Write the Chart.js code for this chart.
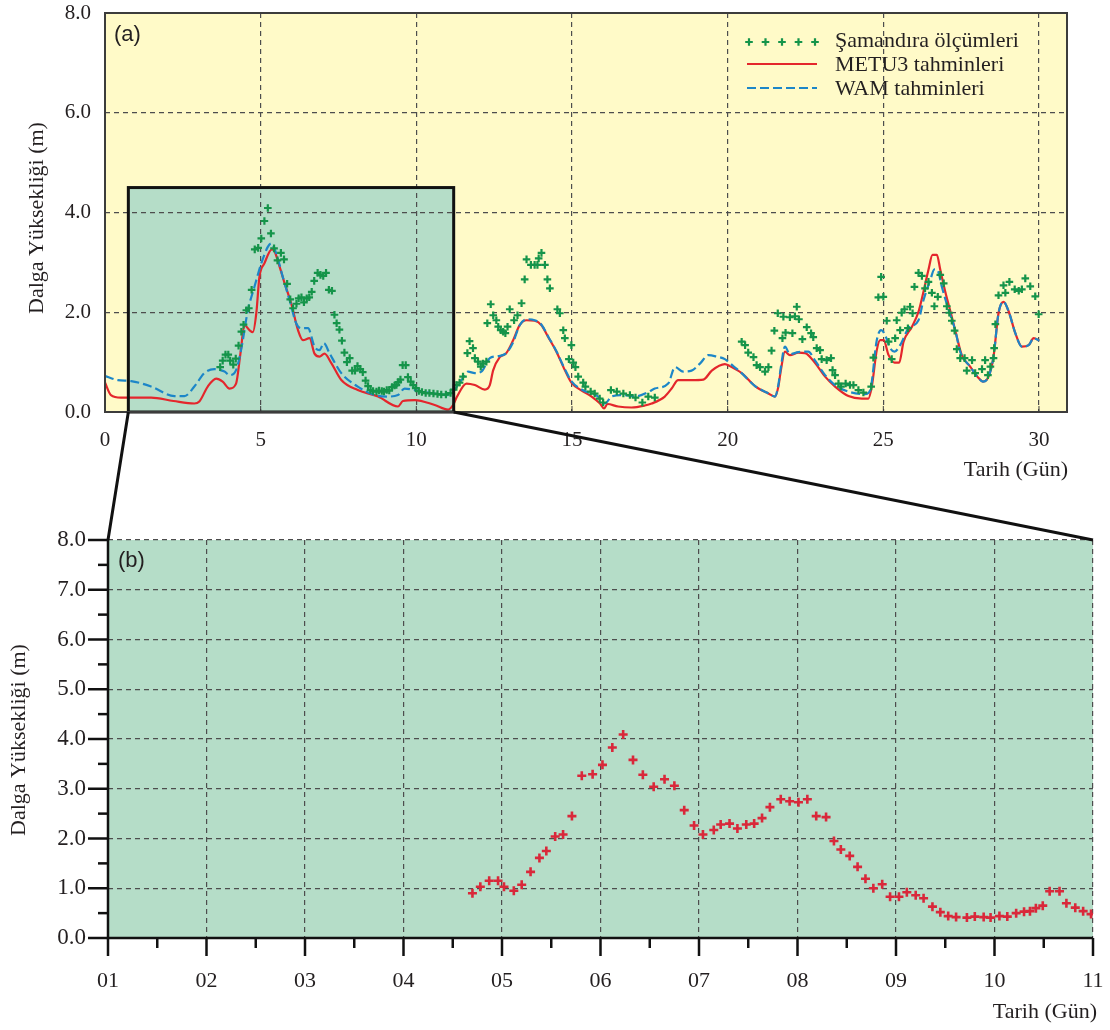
<!DOCTYPE html>
<html lang="tr">
<head>
<meta charset="utf-8">
<title>Dalga Yüksekliği</title>
<script src="https://cdn.jsdelivr.net/npm/chart.js@4/dist/chart.umd.min.js"></script>
<style>
  body { margin: 0; background: #fff; }
  #wrap { position: relative; width: 1110px; height: 1030px; }
  canvas { position: absolute; left: 0; }
  #chart-a { top: 0; }
  #chart-b { top: 500px; }
  #links { top: 0; pointer-events: none; }
</style>
</head>
<body>
<div id="wrap">
  <canvas id="chart-a" width="1110" height="500"></canvas>
  <canvas id="chart-b" width="1110" height="530"></canvas>
  <canvas id="links" width="1110" height="1030"></canvas>
</div>
<script>
// Buoy measurements (day of month, metres)
const buoyDays = [
  3.70, 3.78, 3.87, 3.96, 4.02, 4.12, 4.20, 4.29, 4.38, 4.45, 4.54, 4.62, 4.71, 4.81, 4.92,
  5.02, 5.12, 5.23, 5.33, 5.43, 5.54, 5.65, 5.75, 5.85, 5.95, 6.04, 6.15, 6.22, 6.31, 6.39,
  6.48, 6.56, 6.64, 6.72, 6.83, 6.92, 7.01, 7.10, 7.19, 7.29, 7.37, 7.44, 7.53, 7.61, 7.69,
  7.77, 7.86, 7.94, 8.03, 8.11, 8.20, 8.28, 8.37, 8.45, 8.53, 8.61, 8.72, 8.80, 8.89, 8.96,
  9.05, 9.13, 9.22, 9.30, 9.36, 9.42, 9.49, 9.56, 9.66, 9.73, 9.82, 9.90, 9.98,
  10.08, 10.18, 10.30, 10.42, 10.55, 10.68, 10.80, 10.95, 11.10, 11.20, 11.29, 11.39, 11.50,
  11.64, 11.71, 11.82, 11.88, 11.98, 12.07, 12.14, 12.25, 12.28, 12.39, 12.47, 12.57, 12.63,
  12.71, 12.79, 12.86, 12.93, 13.00, 13.14, 13.25, 13.38, 13.48, 13.54, 13.68, 13.80, 13.89,
  13.93, 14.02, 14.13, 14.21, 14.29, 14.53, 14.61, 14.72, 14.77, 14.90, 14.98, 15.04, 15.11,
  15.20, 15.36, 15.43, 15.60, 15.73, 15.89, 16.00, 16.25, 16.44, 16.65, 16.86, 17.04, 17.26,
  17.45, 17.66,
  20.45, 20.56, 20.66, 20.83, 20.93, 21.04, 21.20, 21.31, 21.41, 21.50, 21.61, 21.76, 21.79,
  21.86, 22.00, 22.08, 22.16, 22.22, 22.29, 22.40, 22.54, 22.68, 22.75, 22.86, 22.97, 23.02,
  23.18, 23.32, 23.37, 23.45, 23.56, 23.64, 23.79, 23.93, 24.04, 24.20, 24.36, 24.61, 24.68,
  24.84, 24.93, 25.00, 25.11, 25.17, 25.27, 25.38, 25.43, 25.54, 25.59, 25.68, 25.79, 25.86,
  25.94, 26.00, 26.13, 26.24, 26.34, 26.45, 26.56, 26.64, 26.75, 26.83, 26.94, 27.04, 27.12,
  27.20, 27.29, 27.36, 27.47, 27.61, 27.68, 27.85, 27.95, 28.17, 28.27, 28.36, 28.44, 28.54,
  28.56, 28.60, 28.70, 28.86, 28.92, 29.05, 29.22, 29.35, 29.45, 29.56, 29.72, 29.88, 29.99
];
const buoyHeights = [
  0.90, 1.03, 1.15, 1.15, 1.03, 0.95, 1.07, 1.33, 1.61, 1.75, 2.04, 2.08, 2.45, 3.26, 3.29,
  3.48, 3.83, 4.09, 3.58, 3.28, 3.04, 3.19, 3.06, 2.57, 2.26, 2.08, 2.17, 2.28, 2.30, 2.20,
  2.28, 2.30, 2.41, 2.63, 2.79, 2.75, 2.73, 2.79, 2.45, 2.43, 1.95, 1.78, 1.65, 1.43, 1.19,
  1.00, 1.08, 0.83, 0.83, 0.92, 0.86, 0.80, 0.63, 0.52, 0.44, 0.42, 0.41, 0.43, 0.42, 0.41,
  0.44, 0.43, 0.50, 0.53, 0.54, 0.60, 0.65, 0.94, 0.94, 0.70, 0.61, 0.54, 0.48,
  0.42, 0.40, 0.38, 0.38, 0.37, 0.36, 0.35, 0.35, 0.38, 0.45, 0.54, 0.59, 0.71,
  1.18, 1.42, 1.28, 1.08, 1.01, 0.91, 0.97, 1.01, 1.78, 2.16, 1.94, 1.84, 1.71,
  1.64, 1.61, 1.58, 1.71, 2.06, 1.84, 1.94, 2.18, 2.66, 3.06, 2.95, 2.95, 2.95,
  3.08, 3.19, 2.95, 2.66, 2.48, 2.06, 1.98, 1.64, 1.48, 1.06, 1.34, 0.99, 0.90,
  0.71, 0.59, 0.51, 0.41, 0.37, 0.27, 0.19, 0.44, 0.41, 0.37, 0.34, 0.29, 0.19,
  0.31, 0.29,
  1.41, 1.34, 1.19, 1.10, 0.94, 0.90, 0.81, 0.90, 1.23, 1.63, 1.98, 1.48, 1.91,
  1.59, 1.90, 1.58, 1.92, 2.11, 1.86, 1.46, 1.70, 1.58, 1.50, 1.28, 1.24, 1.06,
  1.04, 1.08, 0.84, 0.74, 0.57, 0.51, 0.57, 0.54, 0.54, 0.44, 0.39, 0.51, 1.09,
  2.30, 2.71, 2.31, 1.83, 1.41, 1.06, 1.48, 1.84, 1.64, 1.99, 2.06, 1.68, 2.11,
  1.98, 2.51, 2.79, 2.73, 2.48, 2.61, 2.39, 2.12, 2.31, 2.75, 2.58, 2.12, 1.99,
  1.83, 1.63, 1.26, 1.08, 1.08, 0.83, 1.04, 0.78, 0.86, 1.04, 0.74, 0.91, 1.08,
  1.28, 1.76, 2.34, 2.54, 2.39, 2.61, 2.46, 2.43, 2.46, 2.68, 2.52, 2.32, 1.96
];

// METU3 model forecast
const metuDays = [
  0.00, 0.19, 0.51, 1.48, 2.20, 2.87, 3.03, 3.30, 3.57, 3.78, 4.00, 4.21, 4.35, 4.48, 4.64,
  4.75, 4.86, 4.96, 5.12, 5.36, 5.44, 5.61, 5.77, 5.98, 6.20, 6.36, 6.57, 6.73, 6.89, 7.05,
  7.27, 7.59, 8.12, 8.77, 9.41, 9.57, 9.95, 10.59, 11.02, 11.18, 11.30, 11.61, 11.88, 12.20,
  12.36, 12.47, 12.68, 12.89, 13.11, 13.32, 13.54, 13.80, 14.02, 14.23, 14.50, 14.77, 14.98,
  15.31, 15.63, 15.90, 16.03, 16.14, 16.48, 16.91, 17.34, 17.56, 17.98, 18.20, 18.41, 18.84,
  19.22, 19.49, 19.91, 20.07, 20.45, 20.88, 21.31, 21.52, 21.63, 21.71, 21.84, 22.00, 22.27,
  22.49, 22.81, 23.13, 23.45, 23.88, 24.31, 24.52, 24.63, 24.79, 24.90, 25.01, 25.17, 25.36,
  25.51, 25.65, 25.92, 26.13, 26.29, 26.45, 26.58, 26.72, 26.83, 26.99, 27.20, 27.36, 27.52,
  27.79, 28.06, 28.20, 28.38, 28.54, 28.70, 28.86, 29.03, 29.24, 29.45, 29.67, 29.83, 30.01
];
const metuHeights = [
  0.59, 0.34, 0.29, 0.29, 0.22, 0.17, 0.21, 0.51, 0.67, 0.61, 0.47, 0.57, 1.17, 1.74, 1.64,
  1.60, 1.98, 2.71, 2.98, 3.26, 3.23, 2.91, 2.58, 2.18, 1.64, 1.44, 1.48, 1.17, 1.11, 1.17,
  0.98, 0.64, 0.44, 0.31, 0.11, 0.22, 0.24, 0.14, 0.05, 0.14, 0.30, 0.57, 0.54, 0.45,
  0.54, 0.84, 1.10, 1.18, 1.44, 1.74, 1.84, 1.83, 1.74, 1.51, 1.21, 0.84, 0.59,
  0.43, 0.31, 0.17, 0.07, 0.16, 0.11, 0.09, 0.13, 0.17, 0.31, 0.47, 0.64, 0.64,
  0.65, 0.83, 0.96, 0.92, 0.78, 0.52, 0.37, 0.31, 0.51, 0.84, 1.21, 1.14, 1.19,
  1.18, 0.98, 0.71, 0.51, 0.32, 0.27, 0.27, 0.51, 1.24, 1.44, 1.44, 1.14, 0.99,
  0.99, 1.41, 1.71, 2.01, 2.41, 2.85, 3.15, 3.15, 2.85, 2.41, 1.91, 1.51, 1.14,
  0.91, 0.68, 0.61, 0.71, 1.11, 1.98, 2.21, 2.01, 1.58, 1.31, 1.34, 1.48, 1.43
];

// WAM model forecast
const wamDays = [
  0.00, 0.41, 0.84, 1.48, 2.23, 2.55, 2.87, 3.19, 3.51, 3.84, 4.00, 4.21, 4.37, 4.59, 4.80,
  5.02, 5.23, 5.34, 5.50, 5.71, 5.93, 6.14, 6.30, 6.52, 6.73, 6.89, 7.03, 7.21, 7.59, 8.12,
  8.66, 9.09, 9.41, 9.62, 9.95, 10.59, 11.02, 11.13, 11.45, 11.66, 11.88, 12.09, 12.36, 12.63,
  12.89, 13.11, 13.32, 13.54, 13.80, 14.02, 14.23, 14.50, 14.77, 14.98, 15.31, 15.84, 16.06,
  16.27, 16.65, 17.02, 17.45, 17.66, 18.09, 18.31, 18.57, 18.84, 19.11, 19.38, 19.65, 19.91,
  20.18, 20.45, 20.88, 21.31, 21.52, 21.63, 21.71, 21.84, 22.00, 22.27, 22.59, 22.81, 23.13,
  23.45, 23.88, 24.42, 24.58, 24.79, 24.93, 25.06, 25.22, 25.36, 25.54, 25.81, 26.13, 26.29,
  26.51, 26.64, 26.75, 26.88, 27.10, 27.31, 27.47, 27.79, 28.06, 28.20, 28.38, 28.54, 28.70,
  28.86, 29.03, 29.24, 29.45, 29.67, 29.83, 30.01
];
const wamHeights = [
  0.72, 0.64, 0.62, 0.51, 0.32, 0.32, 0.51, 0.78, 0.86, 0.81, 0.74, 0.84, 1.24, 2.04, 2.51,
  2.98, 3.31, 3.38, 3.18, 2.71, 2.24, 1.78, 1.68, 1.68, 1.31, 1.24, 1.38, 1.18, 0.78, 0.51,
  0.34, 0.31, 0.34, 0.47, 0.44, 0.37, 0.34, 0.37, 0.64, 0.81, 0.78, 0.81, 1.08, 1.12,
  1.18, 1.40, 1.74, 1.86, 1.84, 1.75, 1.52, 1.22, 0.86, 0.62, 0.45, 0.31, 0.17,
  0.31, 0.34, 0.31, 0.40, 0.47, 0.57, 0.90, 0.81, 0.83, 0.97, 1.14, 1.11, 1.06,
  0.92, 0.78, 0.52, 0.37, 0.31, 0.55, 0.90, 1.31, 1.16, 1.20, 1.21, 1.03, 0.74,
  0.54, 0.41, 0.36, 0.44, 1.44, 1.64, 1.54, 1.28, 1.21, 1.34, 1.68, 1.84, 2.24,
  2.65, 2.86, 2.83, 2.51, 2.04, 1.64, 1.21, 0.91, 0.68, 0.61, 0.71, 1.11, 1.98,
  2.21, 2.01, 1.58, 1.31, 1.34, 1.48, 1.43
];

const seriesLabels = ["Şamandıra ölçümleri", "METU3 tahminleri", "WAM tahminleri"];

const monthTicks = [0, 5, 10, 15, 20, 25, 30];
const heightTicksA = [0, 2, 4, 6, 8];
const dayTicksB = [1, 2, 3, 4, 5, 6, 7, 8, 9, 10, 11];
const heightTicksB = [0, 1, 2, 3, 4, 5, 6, 7, 8];

// part of the month enlarged in panel (b); panel (b) numbers days from 01
const zoomDays = [0.75, 11.2];
const zoomHeight = 4.5;
const dayShiftB = 1;

const YELLOW = "#fffac8";
const TEAL = "#b5ddc8";
const GREEN = "#15944a";
const RED = "#e4262c";
const BLUE = "#1c86c8";
const MARK_RED = "#d9283a";
const GRID = "#4d4d4d";
const INK = "#231f20";
const SERIF = "'Liberation Serif', 'Times New Roman', serif";
const SANS = "'Liberation Sans', Arial, sans-serif";

function toPoints(days, heights, shift) {
  return days.map((d, i) => ({x: d + shift, y: heights[i]}));
}

function fixedTicks(values) {
  return function(scale) {
    scale.ticks = values.map((v) => ({value: v}));
  };
}

// fixed axis size, and no extra room for overhanging tick labels
function fixedSize(size) {
  return function(scale) {
    if (scale.isHorizontal()) {
      scale.height = size;
    } else {
      scale.width = size;
    }
    scale.paddingTop = 0;
    scale.paddingBottom = 0;
    scale.paddingLeft = 0;
    scale.paddingRight = 0;
  };
}

function yTitle(ctx, x, y, text) {
  ctx.save();
  ctx.translate(x, y);
  ctx.rotate(-Math.PI / 2);
  ctx.font = "22px " + SERIF;
  ctx.fillStyle = INK;
  ctx.textAlign = "center";
  ctx.textBaseline = "middle";
  ctx.fillText(text, 0, 0);
  ctx.restore();
}

function plainText(ctx, text, x, y, font, align) {
  ctx.save();
  ctx.font = font;
  ctx.fillStyle = INK;
  ctx.textAlign = align;
  ctx.textBaseline = "middle";
  ctx.fillText(text, x, y);
  ctx.restore();
}

function drawCross(ctx, x, y, r) {
  ctx.beginPath();
  ctx.moveTo(x - r, y);
  ctx.lineTo(x + r, y);
  ctx.moveTo(x, y - r);
  ctx.lineTo(x, y + r);
  ctx.stroke();
}

const panelA = {
  id: "panelA",
  beforeDraw(chart) {
    const {ctx, chartArea: a, scales: {x, y}} = chart;
    ctx.save();
    ctx.fillStyle = YELLOW;
    ctx.fillRect(a.left, a.top, a.width, a.height);
    const x0 = x.getPixelForValue(zoomDays[0]);
    const x1 = x.getPixelForValue(zoomDays[1]);
    const yt = y.getPixelForValue(zoomHeight);
    const yb = y.getPixelForValue(0);
    ctx.fillStyle = TEAL;
    ctx.fillRect(x0, yt, x1 - x0, yb - yt);
    ctx.restore();
  },
  afterDraw(chart) {
    const {ctx, chartArea: a, scales: {x, y}} = chart;
    ctx.save();

    // enlarged window outline
    const x0 = x.getPixelForValue(zoomDays[0]);
    const x1 = x.getPixelForValue(zoomDays[1]);
    const yt = y.getPixelForValue(zoomHeight);
    const yb = y.getPixelForValue(0);
    ctx.strokeStyle = "#111";
    ctx.lineWidth = 3;
    ctx.strokeRect(x0, yt, x1 - x0, yb - yt);

    // frame and short inner ticks
    ctx.strokeStyle = "#3c3c3c";
    ctx.lineWidth = 2;
    ctx.strokeRect(a.left, a.top, a.width, a.height);
    ctx.lineWidth = 1;
    monthTicks.slice(1).forEach((v) => {
      const px = x.getPixelForValue(v);
      ctx.beginPath();
      ctx.moveTo(px, a.bottom);
      ctx.lineTo(px, a.bottom - 6);
      ctx.stroke();
    });

    // legend
    const lx = a.right - 320;
    ctx.strokeStyle = GREEN;
    ctx.lineWidth = 2.2;
    for (let i = 0; i < 5; i++) {
      drawCross(ctx, lx + 2 + i * 16.5, a.top + 29, 3.8);
    }
    ctx.strokeStyle = RED;
    ctx.lineWidth = 2.2;
    ctx.beginPath();
    ctx.moveTo(lx, a.top + 51);
    ctx.lineTo(lx + 70, a.top + 51);
    ctx.stroke();
    ctx.strokeStyle = BLUE;
    ctx.setLineDash([9, 4]);
    ctx.beginPath();
    ctx.moveTo(lx, a.top + 75);
    ctx.lineTo(lx + 70, a.top + 75);
    ctx.stroke();
    ctx.setLineDash([]);
    ctx.restore();

    const legendFont = "22px " + SERIF;
    plainText(ctx, seriesLabels[0], lx + 88, a.top + 28, legendFont, "left");
    plainText(ctx, seriesLabels[1], lx + 88, a.top + 52, legendFont, "left");
    plainText(ctx, seriesLabels[2], lx + 88, a.top + 76, legendFont, "left");

    plainText(ctx, "(a)", a.left + 9, a.top + 22, "22px " + SANS, "left");
    yTitle(ctx, 37, 218, "Dalga Yüksekliği (m)");
    plainText(ctx, "Tarih (Gün)", a.right + 1, 470, "22px " + SERIF, "right");
  }
};

const panelB = {
  id: "panelB",
  beforeDraw(chart) {
    const {ctx, chartArea: a} = chart;
    ctx.save();
    ctx.fillStyle = TEAL;
    ctx.fillRect(a.left, a.top, a.width, a.height);
    ctx.restore();
  },
  afterDraw(chart) {
    const {ctx, chartArea: a, scales: {x, y}} = chart;
    ctx.save();
    ctx.strokeStyle = "#111";
    ctx.lineWidth = 2.5;
    ctx.beginPath();
    ctx.moveTo(a.left, a.top);
    ctx.lineTo(a.left, a.bottom);
    ctx.lineTo(a.right, a.bottom);
    ctx.stroke();

    heightTicksB.forEach((v) => {
      const py = y.getPixelForValue(v);
      ctx.beginPath();
      ctx.moveTo(a.left - 20, py);
      ctx.lineTo(a.left, py);
      ctx.stroke();
      if (v < 8) {
        const pm = y.getPixelForValue(v + 0.5);
        ctx.beginPath();
        ctx.moveTo(a.left - 10, pm);
        ctx.lineTo(a.left, pm);
        ctx.stroke();
      }
    });
    dayTicksB.forEach((d) => {
      const px = x.getPixelForValue(d);
      ctx.beginPath();
      ctx.moveTo(px, a.bottom);
      ctx.lineTo(px, a.bottom + 18);
      ctx.stroke();
      if (d < 11) {
        const pm = x.getPixelForValue(d + 0.5);
        ctx.beginPath();
        ctx.moveTo(pm, a.bottom);
        ctx.lineTo(pm, a.bottom + 10);
        ctx.stroke();
      }
    });
    ctx.restore();

    plainText(ctx, "(b)", a.left + 10, a.top + 21, "22px " + SANS, "left");
    yTitle(ctx, 19, 240, "Dalga Yüksekliği (m)");
    plainText(ctx, "Tarih (Gün)", a.right + 4, 512, "22px " + SERIF, "right");
  }
};

function gridOptions() {
  return {color: GRID, lineWidth: 1.2, drawTicks: false};
}

const chartA = new Chart(document.getElementById("chart-a"), {
  type: "line",
  data: {
    datasets: [{
      label: seriesLabels[0],
      data: toPoints(buoyDays, buoyHeights, 0),
      showLine: false,
      pointStyle: "cross",
      pointRadius: 3.8,
      pointBorderWidth: 2.2,
      borderColor: GREEN,
      pointBorderColor: GREEN
    }, {
      label: seriesLabels[2],
      data: toPoints(wamDays, wamHeights, 0),
      borderColor: BLUE,
      borderWidth: 2.2,
      borderDash: [9, 4],
      pointRadius: 0,
      cubicInterpolationMode: "monotone"
    }, {
      label: seriesLabels[1],
      data: toPoints(metuDays, metuHeights, 0),
      borderColor: RED,
      borderWidth: 2.2,
      pointRadius: 0,
      cubicInterpolationMode: "monotone"
    }]
  },
  options: {
    responsive: false,
    animation: false,
    devicePixelRatio: 1,
    layout: {padding: {top: 13, right: 43, left: 0, bottom: 0}},
    plugins: {legend: {display: false}, tooltip: {enabled: false}},
    scales: {
      x: {
        type: "linear", min: 0, max: 30.9,
        afterBuildTicks: fixedTicks(monthTicks),
        afterFit: fixedSize(88),
        grid: gridOptions(),
        border: {display: false, dash: [5, 4]},
        ticks: {
          autoSkip: false, maxRotation: 0, padding: 16, color: INK,
          font: {family: SERIF, size: 21}
        }
      },
      y: {
        type: "linear", min: 0, max: 8,
        afterBuildTicks: fixedTicks(heightTicksA),
        afterFit: fixedSize(105),
        grid: gridOptions(),
        border: {display: false, dash: [5, 4]},
        ticks: {
          padding: 14, color: INK,
          font: {family: SERIF, size: 21},
          callback: (v) => v.toFixed(1)
        }
      }
    }
  },
  plugins: [panelA]
});

const chartB = new Chart(document.getElementById("chart-b"), {
  type: "line",
  data: {
    datasets: [{
      label: seriesLabels[0],
      data: toPoints(buoyDays, buoyHeights, dayShiftB).filter((p) => p.x <= 11),
      showLine: false,
      pointStyle: "cross",
      pointRadius: 4.5,
      pointBorderWidth: 2.6,
      borderColor: MARK_RED,
      pointBorderColor: MARK_RED
    }]
  },
  options: {
    responsive: false,
    animation: false,
    devicePixelRatio: 1,
    layout: {padding: {top: 40, right: 17, left: 0, bottom: 0}},
    plugins: {legend: {display: false}, tooltip: {enabled: false}},
    scales: {
      x: {
        type: "linear", min: 1, max: 11,
        afterBuildTicks: fixedTicks(dayTicksB),
        afterFit: fixedSize(92),
        grid: gridOptions(),
        border: {display: false, dash: [5, 4]},
        ticks: {
          autoSkip: false, maxRotation: 0, padding: 30, color: INK,
          font: {family: SERIF, size: 22},
          callback: (v) => String(v).padStart(2, "0")
        }
      },
      y: {
        type: "linear", min: 0, max: 8,
        afterBuildTicks: fixedTicks(heightTicksB),
        afterFit: fixedSize(108),
        grid: gridOptions(),
        border: {display: false, dash: [5, 4]},
        ticks: {
          padding: 22, color: INK,
          font: {family: SERIF, size: 23},
          callback: (v) => v.toFixed(1)
        }
      }
    }
  },
  plugins: [panelB]
});

// lines joining the window in (a) to the corners of (b)
(function drawLinks() {
  const ctx = document.getElementById("links").getContext("2d");
  const topB = 500;
  const ax = chartA.scales.x, ay = chartA.scales.y;
  const bx = chartB.scales.x, by = chartB.scales.y;
  ctx.strokeStyle = "#111";
  ctx.lineWidth = 3;
  ctx.beginPath();
  ctx.moveTo(ax.getPixelForValue(zoomDays[0]), ay.getPixelForValue(0));
  ctx.lineTo(bx.getPixelForValue(dayTicksB[0]), topB + by.getPixelForValue(8));
  ctx.moveTo(ax.getPixelForValue(zoomDays[1]), ay.getPixelForValue(0));
  ctx.lineTo(bx.getPixelForValue(dayTicksB[dayTicksB.length - 1]), topB + by.getPixelForValue(8));
  ctx.stroke();
})();
</script>
</body>
</html>
